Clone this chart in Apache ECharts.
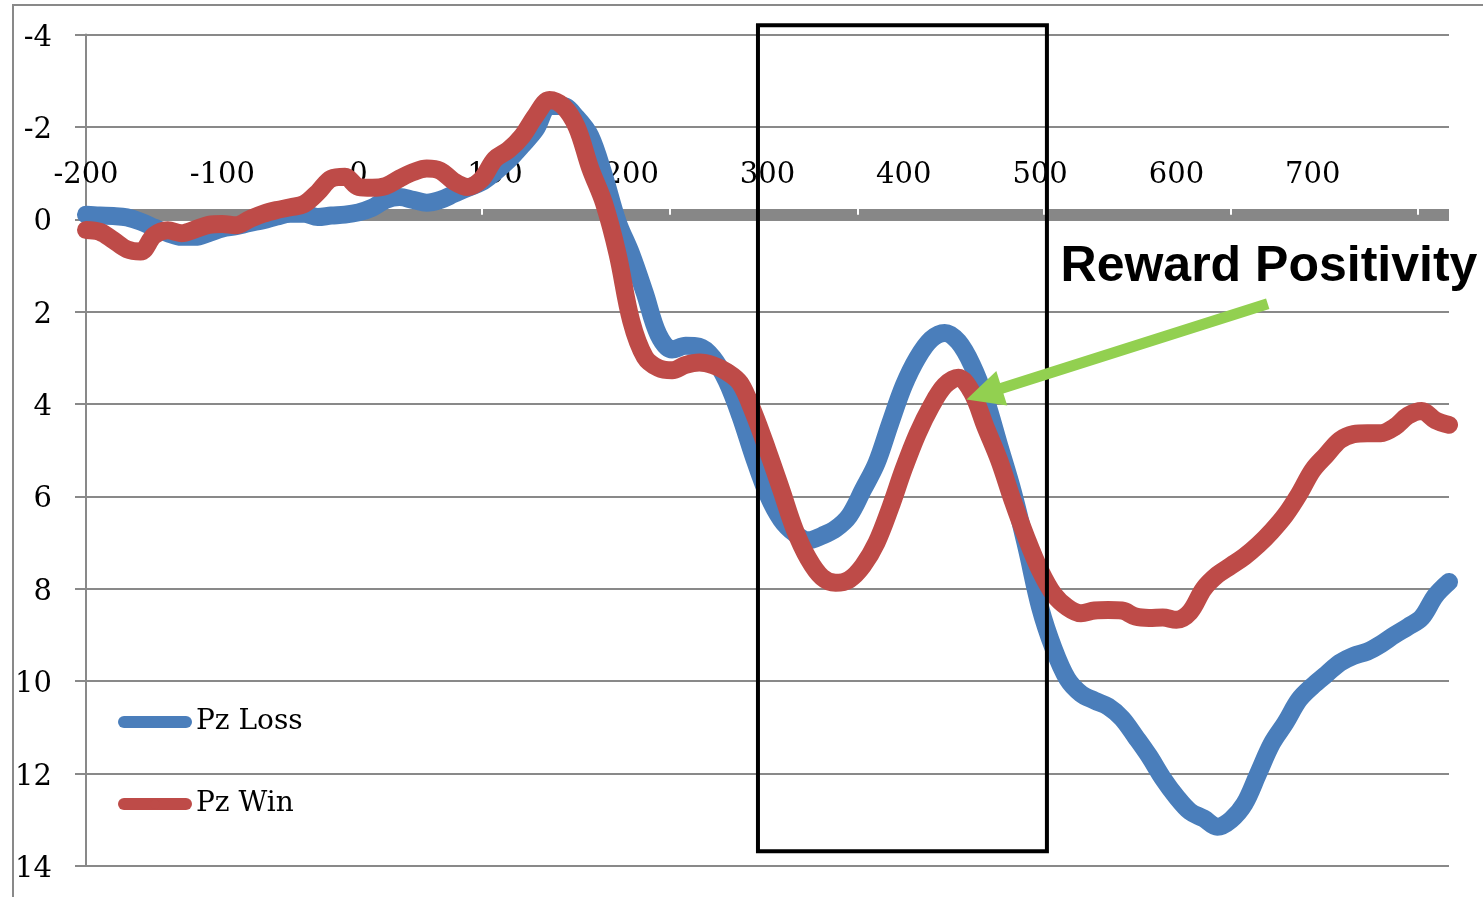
<!DOCTYPE html>
<html>
<head>
<meta charset="utf-8">
<script src="https://cdn.jsdelivr.net/npm/echarts@6/dist/echarts.min.js"></script>
<style>
  html, body { margin: 0; padding: 0; background: #ffffff; }
  #chart { width: 1483px; height: 897px; }
</style>
</head>
<body>
<div id="chart"></div>
<script>
// Time after feedback onset (ms)
const times = [
  -200, -190, -180, -170, -160, -150, -140, -130, -120, -110,
  -100, -90, -80, -70, -60, -50, -40, -30, -20, -10,
  0, 10, 20, 30, 40, 50, 60, 70, 80, 90,
  100, 110, 120, 130, 140, 150, 160, 170, 180, 190,
  200, 210, 220, 230, 240, 250, 260, 270, 280, 290,
  300, 310, 320, 330, 340, 350, 360, 370, 380, 390,
  400, 410, 420, 430, 440, 450, 460, 470, 480, 490,
  500, 510, 520, 530, 540, 550, 560, 570, 580, 590,
  600, 610, 620, 630, 640, 650, 660, 670, 680, 690,
  700, 710, 720, 730, 740, 750, 760, 770, 780, 790,
  800
];

// Pz amplitude (µV), loss trials
const pzLoss = [
  -0.10, -0.08, -0.07, -0.04, 0.05, 0.18, 0.30, 0.38, 0.38, 0.30,
  0.20, 0.15, 0.08, 0.02, -0.06, -0.12, -0.12, -0.05, -0.08, -0.10,
  -0.15, -0.25, -0.42, -0.48, -0.42, -0.36, -0.42, -0.55, -0.68, -0.80,
  -1.02, -1.28, -1.60, -1.95, -2.45, -2.45, -2.20, -1.80, -0.95, 0.05,
  0.75, 1.60, 2.50, 2.82, 2.74, 2.76, 3.00, 3.50, 4.25, 5.15,
  5.95, 6.50, 6.80, 6.95, 6.85, 6.70, 6.42, 5.86, 5.28, 4.42,
  3.60, 3.00, 2.60, 2.46, 2.65, 3.15, 3.90, 4.90, 5.90, 7.10,
  8.40, 9.30, 9.95, 10.27, 10.42, 10.55, 10.80, 11.20, 11.62, 12.10,
  12.50, 12.82, 12.97, 13.15, 13.00, 12.65, 12.00, 11.35, 10.90, 10.40,
  10.10, 9.85, 9.60, 9.45, 9.36, 9.20, 9.00, 8.82, 8.62, 8.15,
  7.85
];

// Pz amplitude (µV), win trials
const pzWin = [
  0.23, 0.27, 0.45, 0.65, 0.70, 0.35, 0.24, 0.30, 0.22, 0.12,
  0.10, 0.13, 0.00, -0.12, -0.20, -0.26, -0.33, -0.58, -0.88, -0.92,
  -0.70, -0.68, -0.72, -0.88, -1.02, -1.10, -1.05, -0.82, -0.70, -0.86,
  -1.30, -1.50, -1.80, -2.25, -2.58, -2.45, -2.00, -1.10, -0.35, 0.75,
  2.20, 2.98, 3.22, 3.27, 3.15, 3.10, 3.16, 3.30, 3.55, 4.20,
  5.00, 5.85, 6.72, 7.35, 7.75, 7.87, 7.80, 7.50, 7.00, 6.25,
  5.40, 4.65, 4.05, 3.60, 3.43, 3.75, 4.50, 5.22, 6.10, 6.90,
  7.60, 8.12, 8.40, 8.53, 8.47, 8.46, 8.47, 8.60, 8.63, 8.62,
  8.67, 8.50, 8.00, 7.70, 7.50, 7.30, 7.05, 6.75, 6.40, 5.95,
  5.43, 5.10, 4.78, 4.65, 4.63, 4.63, 4.50, 4.25, 4.15, 4.35,
  4.45
];

// Minor tick positions cut into the time axis band
const axisBandTicks = [90, 228, 366, 503, 640, 777];

// Reward-positivity window and its callout (data units)
const windowTimes = [293, 505];
const windowAmps = [-4.2, 13.68];
const calloutText = 'Reward Positivity';
const calloutAt = [515, 1.03];
const arrowTail = [667, 1.83];
const arrowTip = [446, 3.9];

const seriesNames = ['Pz Loss', 'Pz Win'];
const seriesColors = ['#4a7ebb', '#be4b48'];

const GRID_GRAY = '#898989';
const SERIF = '"DejaVu Serif", serif';
const LINE_WIDTH = 18;

const chart = echarts.init(document.getElementById('chart'), null, { renderer: 'canvas' });

function pairs(xs, ys) {
  return xs.map((x, i) => [x, ys[i]]);
}

function lineSeries(idx, values, z) {
  return {
    name: seriesNames[idx],
    type: 'line',
    data: pairs(times, values),
    symbol: 'none',
    smooth: 0.35,
    color: seriesColors[idx],
    itemStyle: { color: seriesColors[idx], borderWidth: 0 },
    lineStyle: { color: seriesColors[idx], width: LINE_WIDTH, cap: 'round', join: 'round' },
    z: z
  };
}

const option = {
  backgroundColor: '#ffffff',
  animation: false,
  grid: {
    left: 86, right: 34, top: 34.5, bottom: 31,
    containLabel: false,
    outerBoundsMode: 'none'
  },
  legend: {
    orient: 'vertical',
    left: 118,
    top: 708,
    padding: 0,
    itemWidth: 62,
    itemHeight: 12,
    itemGap: 54,
    data: seriesNames,
    lineStyle: { width: 12, cap: 'round' },
    itemStyle: { borderWidth: 0 },
    textStyle: { fontFamily: SERIF, fontSize: 28, lineHeight: 28, color: '#000', padding: [0, 0, 0, 5] }
  },
  xAxis: [
    {
      // time axis band through zero, with small white notches
      type: 'value',
      min: -200,
      max: 800,
      interval: 100,
      position: 'bottom',
      axisLine: {
        show: true,
        onZero: true,
        onZeroAxisIndex: 1,
        lineStyle: { color: '#878787', width: 11, cap: 'butt' }
      },
      axisTick: {
        show: true,
        inside: true,
        length: 6,
        customValues: axisBandTicks,
        lineStyle: { color: '#ffffff', width: 2 }
      },
      axisLabel: { show: false },
      splitLine: { show: false }
    },
    {
      // time labels sitting just above the band
      type: 'value',
      min: -200,
      max: 800,
      interval: 100,
      position: 'top',
      axisLine: { show: false, onZero: false },
      axisTick: { show: false },
      axisLabel: {
        inside: true,
        margin: 126,
        showMaxLabel: false,
        fontFamily: SERIF,
        fontSize: 29,
        color: '#000'
      },
      splitLine: { show: false }
    }
  ],
  yAxis: [
    {
      type: 'value',
      inverse: true,
      min: -4,
      max: 14,
      interval: 2,
      position: 'left',
      axisLine: { show: true, onZero: false, lineStyle: { color: GRID_GRAY, width: 2 } },
      axisTick: { show: true, length: 11, lineStyle: { color: GRID_GRAY, width: 2 } },
      axisLabel: {
        margin: 34,
        formatter: '{v|{value}}',
        rich: { v: { fontFamily: SERIF, fontSize: 29, color: '#000', padding: [7, 0, 0, 0] } }
      },
      splitLine: { show: true, lineStyle: { color: GRID_GRAY, width: 2 } }
    },
    {
      // baseline reference for the time axis band
      type: 'value',
      show: false,
      inverse: true,
      min: -3.9,
      max: 14.1
    }
  ],
  series: [
    lineSeries(0, pzLoss, 3),
    lineSeries(1, pzWin, 4)
  ]
};

chart.setOption(option);

// Annotations placed through the chart's own coordinate system
function drawAnnotations() {
  const toPx = p => chart.convertToPixel({ xAxisIndex: 0, yAxisIndex: 0 }, p);

  const a = toPx([windowTimes[0], windowAmps[0]]);
  const b = toPx([windowTimes[1], windowAmps[1]]);

  const tail = toPx(arrowTail);
  const tip = toPx(arrowTip);
  const dx = tip[0] - tail[0], dy = tip[1] - tail[1];
  const len = Math.sqrt(dx * dx + dy * dy);
  const ux = dx / len, uy = dy / len;
  const nx = -uy, ny = ux;
  const headLen = 37, headHalf = 18, shaftHalf = 5.5;
  const bx = tip[0] - ux * headLen, by = tip[1] - uy * headLen;
  const arrowPts = [
    [tail[0] + nx * shaftHalf, tail[1] + ny * shaftHalf],
    [bx + nx * shaftHalf, by + ny * shaftHalf],
    [bx + nx * headHalf, by + ny * headHalf],
    [tip[0], tip[1]],
    [bx - nx * headHalf, by - ny * headHalf],
    [bx - nx * shaftHalf, by - ny * shaftHalf],
    [tail[0] - nx * shaftHalf, tail[1] - ny * shaftHalf]
  ];

  const label = toPx(calloutAt);

  chart.setOption({
    graphic: [
      {
        type: 'rect',
        z: -10,
        silent: true,
        shape: { x: 13, y: 5, width: 1600, height: 1000 },
        style: { fill: 'none', stroke: GRID_GRAY, lineWidth: 2 }
      },
      {
        type: 'rect',
        z: 100,
        silent: true,
        shape: { x: a[0], y: a[1], width: b[0] - a[0], height: b[1] - a[1] },
        style: { fill: 'none', stroke: '#000000', lineWidth: 4 }
      },
      {
        type: 'polygon',
        z: 101,
        silent: true,
        shape: { points: arrowPts },
        style: { fill: '#92d050' }
      },
      {
        type: 'text',
        z: 102,
        silent: true,
        x: label[0],
        y: label[1],
        style: {
          text: calloutText,
          font: 'bold 50px "Liberation Sans", Arial, sans-serif',
          fill: '#000000',
          align: 'left',
          verticalAlign: 'middle'
        }
      }
    ]
  });
}

drawAnnotations();
</script>
</body>
</html>
